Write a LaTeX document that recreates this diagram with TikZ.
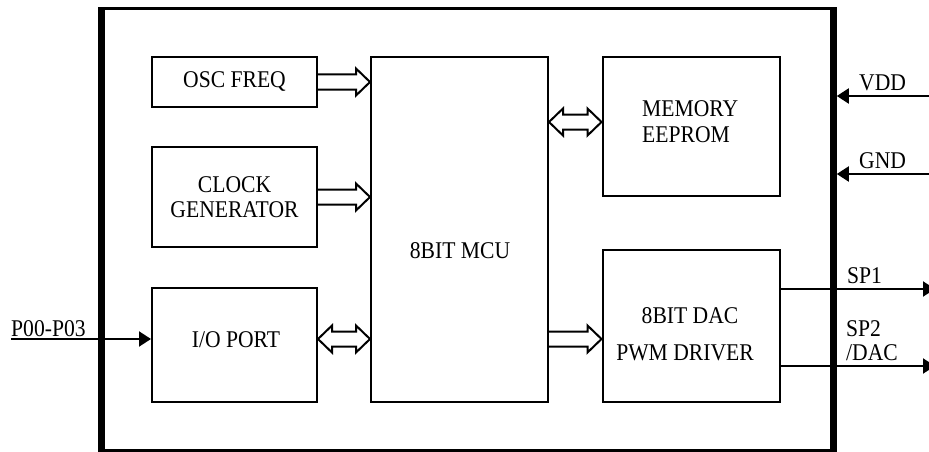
\documentclass[tikz,border=0pt]{standalone}
\usepackage{fontspec}
\setmainfont[FakeStretch=0.9]{Liberation Serif}
\usetikzlibrary{
  calc,
  positioning,
  arrows.meta}

\tikzset{
  blockbox/.style={draw, line width=2pt, inner sep=0pt},
  sig/.style={line width=2pt, -{Triangle[length=12pt,width=15pt]}},
  bus/.style={line width=2pt, line join=miter},
  pinlabel/.style={anchor=base west, inner sep=0pt},
  boxtext/.style={anchor=base, inner sep=0pt}
}

% hollow bus arrow, head at #2
\newcommand{\busarrow}[2]{%
  \draw[bus] let \p1=(#1), \p2=(#2) in
    (\x1,\y1+7.5pt) -- (\x2-14pt,\y1+7.5pt) -- (\x2-14pt,\y1+13.5pt) -- (\x2,\y1)
    -- (\x2-14pt,\y1-13.5pt) -- (\x2-14pt,\y1-7.5pt) -- (\x1,\y1-7.5pt);}
% hollow bus arrow, heads at both ends
\newcommand{\busdarrow}[2]{%
  \draw[bus] let \p1=(#1), \p2=(#2) in
    (\x1,\y1) -- (\x1+14pt,\y1+13.5pt) -- (\x1+14pt,\y1+7.5pt) -- (\x2-14pt,\y1+7.5pt)
    -- (\x2-14pt,\y1+13.5pt) -- (\x2,\y1) -- (\x2-14pt,\y1-13.5pt) -- (\x2-14pt,\y1-7.5pt)
    -- (\x1+14pt,\y1-7.5pt) -- (\x1+14pt,\y1-13.5pt) -- cycle;}

\begin{document}
\begin{tikzpicture}[
  x=1pt, y=-1pt,
  font=\fontsize{24}{25.5}\selectfont
]%
  \useasboundingbox (0,0) rectangle (929,452);

  % Chip outline
  \draw[line width=2.5pt] (101.5,8.5) rectangle (833.5,450.5);
  \draw[line width=6.5pt] (101.5,7.25) -- (101.5,451.75);
  \draw[line width=6.5pt] (833.5,7.25) -- (833.5,451.75);
  \coordinate (rail) at (836.8,0);

  % Blocks
  \node[blockbox, minimum width=165pt, minimum height=50pt] (osc) at (234.5,82) {OSC FREQ};
  \node[blockbox, minimum width=165pt, minimum height=100pt, align=center] (clk) at (234.5,197) {CLOCK\\GENERATOR};
  \node[blockbox, minimum width=165pt, minimum height=114pt] (io) at (234.5,345) {};
  \node[blockbox, minimum width=177pt, minimum height=345pt] (mcu) at (459.5,229.5) {};
  \node[blockbox, minimum width=177pt, minimum height=139pt] (mem) at (691,126.5) {};
  \node[blockbox, minimum width=177pt, minimum height=152pt] (dac) at (691,326) {};

  % Block texts
  \node[boxtext] (iotext) at (236,347) {I/O PORT};
  \node[boxtext] (mcutext) at (460,258) {8BIT MCU};
  \node[anchor=west, inner sep=0pt, align=left] (memtext) at (642,121.5) {MEMORY\\EEPROM};
  \node[boxtext] (dactext) at (690,323) {8BIT DAC};
  \node[boxtext] (pwmtext) at (685,360) {PWM DRIVER};

  % Bus arrows
  \coordinate (iobus) at ([yshift=6pt]io.east);
  \coordinate (membus) at ([yshift=4.5pt]mem.west);
  \coordinate (dacbus) at ([yshift=-13pt]dac.west);
  \busarrow{osc.east}{mcu.west |- osc.east}
  \busarrow{clk.east}{mcu.west |- clk.east}
  \busdarrow{iobus}{mcu.west |- iobus}
  \busdarrow{mcu.east |- membus}{membus}
  \busarrow{mcu.east |- dacbus}{dacbus}

  % Pins
  \coordinate (p0) at (11,339);
  \coordinate (vdd) at (929,96);
  \coordinate (gnd) at (929,174);
  \coordinate (sp1) at (935,289);
  \coordinate (sp2) at (935,366);

  \draw[sig] (p0) -- (io.west |- p0);
  \draw[sig] (vdd) -- (rail |- vdd);
  \draw[sig] (gnd) -- (rail |- gnd);
  \draw[sig] (dac.east |- sp1) -- (sp1);
  \draw[sig] (dac.east |- sp2) -- (sp2);

  \node[pinlabel] (p0label) at (11,336) {P00-P03};
  \node[pinlabel] (vddlabel) at (859,91) {VDD};
  \node[pinlabel] (gndlabel) at (859,168) {GND};
  \node[pinlabel] (sp1label) at (847,283) {SP1};
  \node[pinlabel, align=left, font=\fontsize{24}{24}\selectfont] (sp2label) at (846,360) {SP2\\/DAC};
\end{tikzpicture}
\end{document}
